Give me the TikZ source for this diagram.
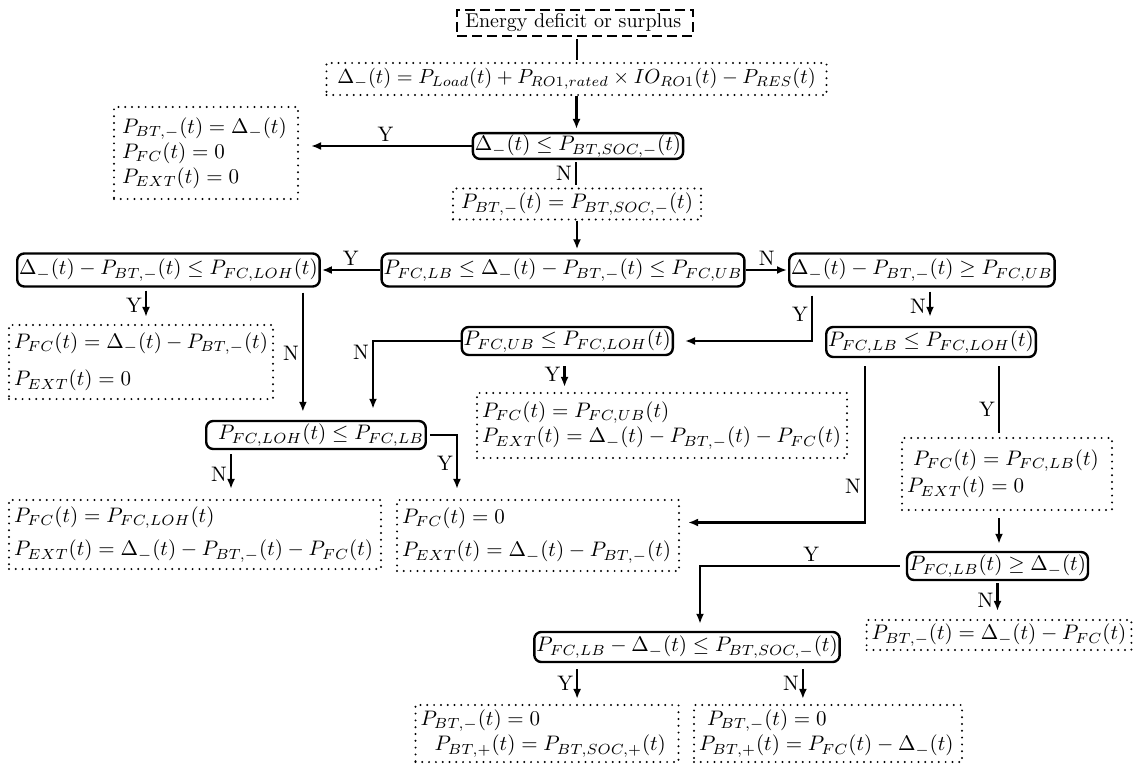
\RequirePackage{fix-cm}
\documentclass[tikz,border=0pt]{standalone}
\usetikzlibrary{arrows.meta,calc}
\begin{document}
\begin{tikzpicture}[x=0.5pt,y=-0.5pt,
  every node/.style={font=\fontsize{10.5pt}{12.6pt}\selectfont},
  ln/.style={line width=1.1pt},
  arr/.style={ln,-{Latex[length=5pt,width=4pt]}},
  startbox/.style={draw,line width=1.2pt,dash pattern=on 5pt off 2.5pt,inner sep=0pt,minimum width=118pt,minimum height=13pt},
  dec/.style={draw,rounded corners=3.5pt,line width=1.2pt,inner xsep=1pt,inner ysep=1pt},
  res/.style={draw,line width=1.1pt,dash pattern=on 0pt off 3.4pt,line cap=round,inner xsep=2.5pt,inner ysep=1pt},
  lab/.style={inner sep=1.5pt}
]
\useasboundingbox (0,0) rectangle (1136,765);

% start and balance
\node[startbox,font=\fontsize{10pt}{12pt}\selectfont] (start) at (575,23) {Energy deficit or surplus\,};
\node[res,minimum width=250pt,minimum height=16pt,font=\fontsize{10.2pt}{12.2pt}\selectfont] (eq1) at (576.5,79)
  {$\Delta_{-}(t) = P_{Load}(t) + P_{RO1,rated}\times IO_{RO1}(t) - P_{RES}(t)$};

% battery check
\node[dec,minimum height=12.5pt] (d1) at (578,146) {$\Delta_{-}(t) \leq P_{BT,SOC,-}(t)$};
\node[res,inner xsep=4pt,minimum width=92pt,minimum height=46pt,text width=84pt,align=left] (r1) at (206,153)
  {$P_{BT,-}(t) = \Delta_{-}(t)$\\ $P_{FC}(t) = 0$\\ $P_{EXT}(t) = 0$};
\node[res,minimum width=124pt,minimum height=15.5pt] (a1) at (577,204) {$P_{BT,-}(t) = P_{BT,SOC,-}(t)$};

% fuel cell range checks
\node[dec,minimum height=16.5pt] (d2) at (563,270) {$P_{FC,LB} \leq \Delta_{-}(t) - P_{BT,-}(t) \leq P_{FC,UB}$};
\node[dec,minimum height=16.5pt,anchor=west] (d3) at (16,270) {$\Delta_{-}(t) - P_{BT,-}(t) \leq P_{FC,LOH}(t)$};
\node[dec,minimum height=16.5pt,anchor=west] (d4) at (788,270) {$\Delta_{-}(t) - P_{BT,-}(t) \geq P_{FC,UB}$};
\node[dec,minimum height=14pt,anchor=east] (d5) at (674,341) {$P_{FC,UB} \leq P_{FC,LOH}(t)$};
\node[dec,minimum height=15pt,anchor=east] (d7) at (1037,342) {$P_{FC,LB} \leq P_{FC,LOH}(t)$};
\node[dec,minimum height=14pt] (d6) at (316,435) {\hspace{5pt}$P_{FC,LOH}(t) \leq P_{FC,LB}$};

% results
\node[res,minimum width=132pt,minimum height=37pt,text width=127pt,align=left] (r2) at (141,362)
  {$P_{FC}(t) = \Delta_{-}(t) - P_{BT,-}(t)$\\[6pt] $P_{EXT}(t) = 0$};
\node[res,minimum width=185pt,minimum height=32.5pt,text width=180pt,align=left] (r3) at (662,425.5)
  {$P_{FC}(t) = P_{FC,UB}(t)$\\ $P_{EXT}(t) = \Delta_{-}(t) - P_{BT,-}(t) - P_{FC}(t)$};
\node[res,minimum width=186pt,minimum height=34.5pt,text width=181pt,align=left] (r4) at (195,534.5)
  {$P_{FC}(t) = P_{FC,LOH}(t)$\\[4pt] $P_{EXT}(t) = \Delta_{-}(t) - P_{BT,-}(t) - P_{FC}(t)$};
\node[res,minimum width=141pt,minimum height=35.5pt,text width=136pt,align=left] (r5) at (538,535.5)
  {$P_{FC}(t) = 0$\\[4pt] $P_{EXT}(t) = \Delta_{-}(t) - P_{BT,-}(t)$};
\node[res,minimum width=105pt,minimum height=36pt,text width=100pt,align=left] (r6) at (1007,474)
  {\hspace{3pt}$P_{FC}(t) = P_{FC,LB}(t)$\\[1pt] $P_{EXT}(t) = 0$};

% surplus of fuel cell
\node[dec,minimum height=14pt] (d8) at (997.5,566) {$P_{FC,LB}(t) \geq \Delta_{-}(t)$};
\node[res,minimum width=131pt,minimum height=15pt] (r7) at (999,635) {$P_{BT,-}(t) = \Delta_{-}(t) - P_{FC}(t)$};
\node[dec,minimum height=15pt] (d9) at (687,647) {$P_{FC,LB} - \Delta_{-}(t) \leq P_{BT,SOC,-}(t)$};
\node[res,minimum width=131.5pt,minimum height=28.5pt,text width=126.5pt,align=left] (r8) at (547,733.5)
  {$P_{BT,-}(t) = 0$\\ \hspace{7pt}$P_{BT,+}(t) = P_{BT,SOC,+}(t)$};
\node[res,minimum width=134pt,minimum height=28.5pt,text width=129pt,align=left] (r9) at (828,733.5)
  {\hspace{4pt}$P_{BT,-}(t) = 0$\\ $P_{BT,+}(t) = P_{FC}(t) - \Delta_{-}(t)$};

% connectors
\draw[ln,shorten <=1pt,shorten >=1pt] ([xshift=1pt]start.south) -- ([xshift=1pt]start.south |- eq1.north);
\draw[arr,shorten >=1.5pt] (eq1.south) -- (eq1.south |- d1.north);
\draw[arr,shorten >=6pt] (d1.west) -- node[lab,above] {Y} (d1.west -| r1.east);
\draw[ln,shorten <=1pt,shorten >=1pt] ([xshift=-1pt]d1.south) -- node[lab,left] {N} ([xshift=-1pt]d1.south |- a1.north);
\draw[arr,shorten >=1.5pt] (a1.south) -- (a1.south |- d2.north);

\draw[arr,shorten >=0.5pt] (d2.west) -- node[lab,above] {Y} (d2.west -| d3.east);
\draw[arr,shorten >=0.5pt] (d2.east) -- node[lab,above] {N} (d2.east -| d4.west);

\draw[arr,shorten <=1.5pt,shorten >=3.5pt] ([xshift=65pt]d3.south west) -- node[lab,left] {Y} ([xshift=65pt]d3.south west |- r2.north);
\draw[arr,shorten <=2.5pt,shorten >=4pt] ([xshift=-9pt]d3.south east) -- node[lab,left] {N} ([xshift=-9pt]d3.south east |- d6.north);

\draw[arr,shorten <=4pt,shorten >=5.5pt] ([xshift=12pt]d4.south west) |- node[lab,left,pos=0.25] {Y} (d5.east);
\draw[arr,shorten <=2pt,shorten >=4.5pt] ([xshift=71pt]d4.south west) -- node[lab,left] {N} ([xshift=71pt]d4.south west |- d7.north);

\draw[arr,shorten <=5pt,shorten >=2.5pt] ([xshift=52pt]d5.south west) -- node[lab,left] {Y} ([xshift=52pt]d5.south west |- r3.north);
\draw[arr,shorten >=5.5pt] (d5.west) -| node[lab,below left,pos=0.5] {N} ([xshift=28.5pt]d6.north);

\draw[arr,shorten <=2pt,shorten >=5pt] ([xshift=13pt]d6.south west) -- node[lab,left] {N} ([xshift=13pt]d6.south west |- r4.north);
\draw[arr,shorten <=1.5pt,shorten >=5pt] (d6.east) -| node[lab,left,pos=0.72] {Y} ([xshift=15pt]d6.east |- r5.north);

\draw[arr,shorten <=4pt,shorten >=4pt] ([xshift=20pt]d7.south west) |- node[lab,left,pos=0.39] {N} ([yshift=6.5pt]r5.east);
\draw[ln,shorten <=4pt,shorten >=2pt] ([xshift=-19pt]d7.south east) -- node[lab,left,pos=0.65] {Y} ([xshift=-19pt]d7.south east |- r6.north);
\draw[arr,shorten <=3.5pt,shorten >=3.5pt] ([xshift=-19pt]d7.south east |- r6.south) -- ([xshift=-19pt]d7.south east |- d8.north);

\draw[arr,shorten <=3pt,shorten >=3.5pt] (d8.west) -| node[lab,above,pos=0.23] {Y} ([xshift=6.5pt]d9.north);
\draw[arr,shorten <=1pt,shorten >=4pt] (d8.south) -- node[lab,left] {N} (d8.south |- r7.north);

\draw[arr,shorten <=3pt,shorten >=2.5pt] ([xshift=22pt]d9.south west) -- node[lab,left] {Y} ([xshift=22pt]d9.south west |- r8.north);
\draw[arr,shorten <=3pt,shorten >=2.5pt] ([xshift=-19pt]d9.south east) -- node[lab,left] {N} ([xshift=-19pt]d9.south east |- r9.north);
\end{tikzpicture}
\end{document}
